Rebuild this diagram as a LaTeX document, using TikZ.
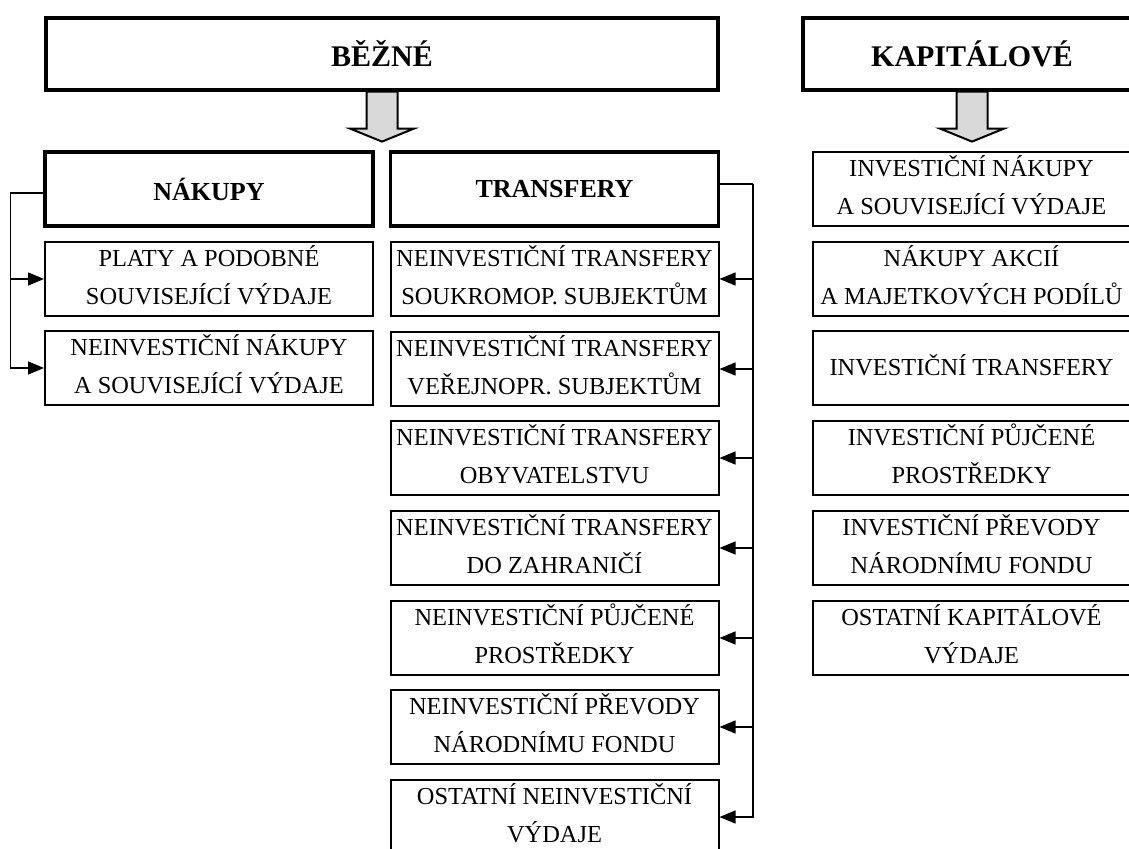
\documentclass[tikz,border=0pt]{standalone}
\usepackage{fontspec}
\setmainfont{Liberation Serif}
\usetikzlibrary{%
  arrows.meta,% Triangle tips
  positioning,%
  calc% wg. ($...$)
}

\begin{document}
\begin{tikzpicture}[
  x=0.5pt, y=-0.5pt,
  font=\fontsize{12.2}{19}\selectfont, >={Triangle[length=8pt,width=6.5pt]},
  frame/.style={rectangle, draw=black, line width=1pt, minimum height=37pt, inner sep=0pt, align=center},
  box/.style={frame, text depth=4pt},
  subhead/.style={frame, line width=1.6pt, font=\fontsize{13}{15}\selectfont\bfseries},
  head/.style={subhead, minimum height=36pt, font=\fontsize{15}{18}\selectfont\bfseries},
  link/.style={line width=0.75pt},
  bigarrow/.style={draw=black, line width=1pt, fill=gray!30, line join=miter}
]
\useasboundingbox (0,0) rectangle (1129,849);

\node[head, minimum width=336pt] (b) at (382,54) {BĚŽNÉ};
  \node[subhead, minimum width=164pt] (b-1) at (209,189) {NÁKUPY};
    \node[box, minimum width=164pt] (b-1-1) at (209,279) {PLATY A PODOBNÉ\\SOUVISEJÍCÍ VÝDAJE};
    \node[box, minimum width=164pt] (b-1-2) at (209,368) {NEINVESTIČNÍ NÁKUPY\\A SOUVISEJÍCÍ VÝDAJE};
  \node[subhead, minimum width=164pt] (b-2) at (554.5,189) {TRANSFERY};
    \node[box, minimum width=164pt] (b-2-1) at (554.5,279) {NEINVESTIČNÍ TRANSFERY\\SOUKROMOP. SUBJEKTŮM};
    \node[box, minimum width=164pt] (b-2-2) at (554.5,369) {NEINVESTIČNÍ TRANSFERY\\VEŘEJNOPR. SUBJEKTŮM};
    \node[box, minimum width=164pt] (b-2-3) at (554.5,458) {NEINVESTIČNÍ TRANSFERY\\OBYVATELSTVU};
    \node[box, minimum width=164pt] (b-2-4) at (554.5,548) {NEINVESTIČNÍ TRANSFERY\\DO ZAHRANIČÍ};
    \node[box, minimum width=164pt] (b-2-5) at (554.5,638) {NEINVESTIČNÍ PŮJČENÉ\\PROSTŘEDKY};
    \node[box, minimum width=164pt] (b-2-6) at (554.5,727) {NEINVESTIČNÍ PŘEVODY\\NÁRODNÍMU FONDU};
    \node[box, minimum width=164pt] (b-2-7) at (554.5,817) {OSTATNÍ NEINVESTIČNÍ\\VÝDAJE};

\node[head, minimum width=169pt] (k) at (972,54) {KAPITÁLOVÉ};
  \node[box, minimum width=159pt] (k-1) at (971.5,189) {INVESTIČNÍ NÁKUPY\\A SOUVISEJÍCÍ VÝDAJE};
  \node[box, minimum width=159pt] (k-2) at (971.5,279) {NÁKUPY AKCIÍ\\A MAJETKOVÝCH PODÍLŮ};
  \node[box, minimum width=159pt, text depth=2.5pt] (k-3) at (971.5,368) {INVESTIČNÍ TRANSFERY};
  \node[box, minimum width=159pt] (k-4) at (971.5,458) {INVESTIČNÍ PŮJČENÉ\\PROSTŘEDKY};
  \node[box, minimum width=159pt] (k-5) at (971.5,548) {INVESTIČNÍ PŘEVODY\\NÁRODNÍMU FONDU};
  \node[box, minimum width=159pt] (k-6) at (971.5,638) {OSTATNÍ KAPITÁLOVÉ\\VÝDAJE};

% block arrows
\draw[bigarrow] ($(b.south)+(-15.5,0)$) -- ++(0,37) -- ++(-16.5,0) -- ++(32,13) -- ++(32,-13) -- ++(-16.5,0) -- ++(0,-37) -- cycle;
\draw[bigarrow] ($(k.south)+(-15.5,0)$) -- ++(0,37) -- ++(-16.5,0) -- ++(32,13) -- ++(32,-13) -- ++(-16.5,0) -- ++(0,-37) -- cycle;

% nakupy
\coordinate (b-1-bus) at ($(b-1.west)+(-33,4)$);
\draw[link] ($(b-1.west)+(0,4)$) -- (b-1-bus);
  \draw[link,->] (b-1-bus) |- (b-1-1.west);
  \draw[link,->] (b-1-bus) |- (b-1-2.west);

% transfery
\coordinate (b-2-bus) at ($(b-2.east)+(33,-5)$);
\draw[link] ($(b-2.east)+(0,-5)$) -- (b-2-bus);
  \draw[link,->] (b-2-bus) |- (b-2-1.east);
  \draw[link,->] (b-2-bus) |- (b-2-2.east);
  \draw[link,->] (b-2-bus) |- (b-2-3.east);
  \draw[link,->] (b-2-bus) |- (b-2-4.east);
  \draw[link,->] (b-2-bus) |- (b-2-5.east);
  \draw[link,->] (b-2-bus) |- (b-2-6.east);
  \draw[link,->] (b-2-bus) |- (b-2-7.east);
\end{tikzpicture}
\end{document}
